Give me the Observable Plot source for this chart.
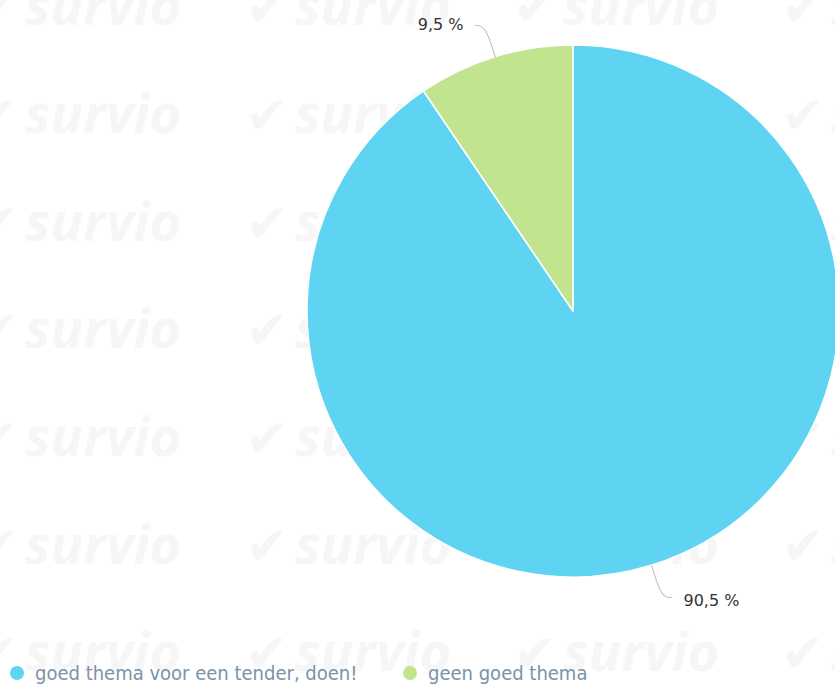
<!DOCTYPE html>
<html>
<head>
<meta charset="utf-8">
<script src="https://cdn.jsdelivr.net/npm/d3@7"></script>
<script src="https://cdn.jsdelivr.net/npm/@observablehq/plot@0.6"></script>
<style>
html,body{margin:0;padding:0;background:#fff;overflow:hidden}
#wrap{position:relative;width:835px;height:686px;overflow:hidden}
#wm,#chart{position:absolute;left:0;top:0}
#legend{position:absolute;left:0;top:660px;width:835px;height:26px;font-family:"DejaVu Sans Condensed","DejaVu Sans",sans-serif;font-size:20px;color:#7b93a8;}
.item{position:absolute;top:0;white-space:nowrap;line-height:26px}
.sw{position:absolute;top:6px;width:14px;height:14px;border-radius:50%}
</style>
</head>
<body>
<div id="wrap">
  <div id="wm"></div>
  <div id="chart"></div>
  <div id="legend"></div>
</div>
<script>
// ---- data ----
const categories = ["goed thema voor een tender, doen!", "geen goed thema"];
const values = [90.5, 9.5];
const labels = ["90,5 %", "9,5 %"];
const colors = ["#5fd4f2", "#c2e48f"];

// ---- watermark (faint background) ----
(function(){
  const svg = d3.select("#wm").append("svg").attr("width",835).attr("height",686);
  const rows = [25,133,241,348,456,564,671];
  const cols = [25,295,563,831];
  for (const y of rows) for (const x of cols) {
    const g = svg.append("g").attr("transform",`translate(${x},${y})`).attr("fill","#f6f6f6");
    g.append("text").attr("x",-50).attr("y",0).attr("font-family","DejaVu Sans").attr("font-weight","bold").attr("font-size",52).text("\u2714");
    g.append("text").attr("x",0).attr("y",0).attr("font-family","Open Sans").attr("font-weight","bold").attr("font-style","italic").attr("font-size",54).text("survio");
  }
})();

// ---- pie layout ----
const rows = categories.map((c,i)=>({category:c, value:values[i], label:labels[i]}));
const pie = d3.pie().sort(null).value(d=>d.value)(rows);
const R_ELBOW = 1.125;
const H = 0.038;
const labelData = pie.map(p=>{
  const mid = (p.startAngle+p.endAngle)/2;
  const side = Math.sin(mid) >= 0 ? 1 : -1;
  return {...p.data, side, sx:Math.sin(mid), sy:Math.cos(mid), ex:Math.sin(mid)*R_ELBOW, ey:Math.cos(mid)*R_ELBOW};
});
const connectors = labelData.flatMap(d=>[
  {category:d.category, x:d.sx, y:d.sy},
  {category:d.category, x:d.ex, y:d.ey},
  {category:d.category, x:d.ex + d.side*H, y:d.ey}
]);

const chart = Plot.plot({
  width: 835,
  height: 650,
  style: {background:"transparent", overflow:"hidden"},
  x: {domain:[-1,1], range:[307,839], axis:null},
  y: {domain:[-1,1], range:[577,45], axis:null},
  color: {domain:categories, range:colors},
  marks: [
    Plot.dot(labelData, {x:"sx", y:"sy", fill:"category", r:0}),
    (index, scales) => {
      const cx = scales.x(0), cy = scales.y(0), r = (scales.x(1)-scales.x(-1))/2;
      const arc = d3.arc().innerRadius(0).outerRadius(r);
      const g = d3.create("svg:g").attr("transform",`translate(${cx},${cy})`);
      g.selectAll("path").data(pie).join("path")
        .attr("d",arc)
        .attr("fill",(d,i)=> scales.color ? scales.color(d.data.category) : colors[i])
        .attr("stroke","#fff").attr("stroke-width",1.5).attr("stroke-linejoin","round");
      return g.node();
    },
    Plot.line(connectors, {x:"x", y:"y", z:"category", stroke:"#c4c4c4", strokeWidth:1.2, curve:"basis"}),
    Plot.text(labelData.filter(d=>d.side>0), {x:"ex", y:"ey", text:"label", dx:22, dy:3, textAnchor:"start", fontSize:16, fill:"#333", fontFamily:"DejaVu Sans"}),
    Plot.text(labelData.filter(d=>d.side<0), {x:"ex", y:"ey", text:"label", dx:-22, dy:-1, textAnchor:"end", fontSize:16, fill:"#333", fontFamily:"DejaVu Sans"})
  ]
});
document.getElementById("chart").appendChild(chart);

// ---- legend ----
const legend = d3.select("#legend");
const lx = [10, 403];
categories.forEach((c,i)=>{
  const it = legend.append("div").attr("class","item").style("left",lx[i]+"px");
  it.append("div").attr("class","sw").style("left","0px").style("background",colors[i]);
  it.append("span").style("margin-left","25px").text(c);
});
</script>
</body>
</html>
